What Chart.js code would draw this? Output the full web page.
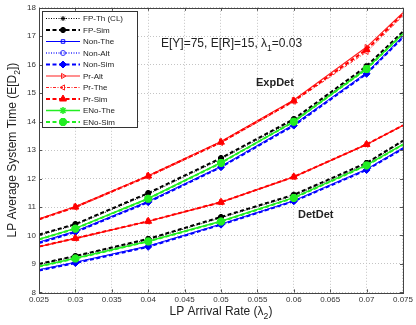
<!DOCTYPE html>
<html><head><meta charset="utf-8">
<script src="https://cdn.jsdelivr.net/npm/chart.js@4/dist/chart.umd.min.js"></script>
<style>html,body{margin:0;padding:0;background:#fff;overflow:hidden}</style>
</head><body>
<canvas id="c" width="416" height="325"></canvas>
<script>
// ---- data ----
const xValues = [0.025, 0.03, 0.04, 0.05, 0.06, 0.07, 0.075];
const xTickLabels = ['0.025','0.03','0.035','0.04','0.045','0.05','0.055','0.06','0.065','0.07','0.075'];
const yTickLabels = ['8','9','10','11','12','13','14','15','16','17','18'];
const seriesNames = ['FP-Th (CL)','FP-Sim','Non-The','Non-Alt','Non-Sim','Pr-Alt','Pr-The','Pr-Sim','ENo-The','ENo-Sim'];
const groupLabels = ['ExpDet','DetDet'];
const noteText = 'E[Y]=75, E[R]=15, λ1=0.03';

// ExpDet curves
const expFPTh   = [10.00, 10.37, 11.45, 12.68, 14.05, 15.90, 17.12];
const expFPSim  = [10.03, 10.40, 11.49, 12.72, 14.09, 15.95, 17.17];
const expNonThe = [9.77, 10.15, 11.20, 12.43, 13.90, 15.72, 17.00];
const expNonAlt = [9.75, 10.13, 11.18, 12.41, 13.88, 15.70, 16.98];
const expNonSim = [9.73, 10.12, 11.17, 12.40, 13.86, 15.68, 16.96];
const expPrAlt  = [10.58, 11.02, 12.10, 13.30, 14.76, 16.62, 17.83];
const expPrThe  = [10.55, 10.98, 12.06, 13.25, 14.70, 16.45, 17.72];
const expPrSim  = [10.57, 11.00, 12.09, 13.28, 14.73, 16.53, 17.78];
const expENoThe = [9.87, 10.25, 11.30, 12.56, 14.00, 15.86, 17.09];
const expENoSim = [9.86, 10.24, 11.29, 12.55, 14.00, 15.85, 17.08];
// DetDet curves
const detFPTh   = [8.98, 9.26, 9.85, 10.62, 11.40, 12.52, 13.30];
const detFPSim  = [9.00, 9.28, 9.88, 10.65, 11.43, 12.55, 13.33];
const detNonThe = [8.80, 9.06, 9.63, 10.40, 11.22, 12.33, 13.08];
const detNonAlt = [8.79, 9.05, 9.62, 10.39, 11.21, 12.32, 13.07];
const detNonSim = [8.77, 9.03, 9.60, 10.38, 11.20, 12.30, 13.05];
const detPrAlt  = [9.61, 9.90, 10.50, 11.17, 12.06, 13.20, 13.87];
const detPrThe  = [9.60, 9.89, 10.49, 11.16, 12.05, 13.19, 13.86];
const detPrSim  = [9.61, 9.90, 10.50, 11.17, 12.06, 13.20, 13.87];
const detENoThe = [8.92, 9.20, 9.80, 10.50, 11.33, 12.47, 13.20];
const detENoSim = [8.91, 9.19, 9.79, 10.49, 11.32, 12.46, 13.19];

const expSeries = [expFPTh, expFPSim, expNonThe, expNonAlt, expNonSim, expPrAlt, expPrThe, expPrSim, expENoThe, expENoSim];
const detSeries = [detFPTh, detFPSim, detNonThe, detNonAlt, detNonSim, detPrAlt, detPrThe, detPrSim, detENoThe, detENoSim];

// ---- styles ----
const NONE = 'rgba(0,0,0,0)';
const GREEN = '#22ee22';
const styles = [
  {color:'#000', dash:[1,1.5], lw:1, ps:'star', rot:0, pr:2.5, pbw:1, fill:'#000'},
  {color:'#000', dash:[4,2.5], lw:2, ps:'star', rot:0, pr:3, pbw:2, fill:'#000'},
  {color:'#0000ff', dash:[], lw:1, ps:'rect', rot:0, pr:2.5, pbw:1, fill:NONE},
  {color:'#3333ff', dash:[1,1.5], lw:1.5, ps:'circle', rot:0, pr:2.5, pbw:1, fill:NONE},
  {color:'#0000ff', dash:[4,2.5], lw:2, ps:'rectRot', rot:0, pr:3.5, pbw:1, fill:'#0000ff'},
  {color:'#ff2020', dash:[], lw:1.2, ps:'triangle', rot:90, pr:3, pbw:1, fill:NONE},
  {color:'#ff2020', dash:[3,1.5,1,1.5], lw:1, ps:'triangle', rot:-90, pr:3, pbw:1, fill:NONE},
  {color:'#ff0000', dash:[4,2.5], lw:2, ps:'triangle', rot:0, pr:4, pbw:1, fill:'#ff0000'},
  {color:GREEN, dash:[], lw:1.5, ps:'star', rot:0, pr:3.5, pbw:1.5, fill:GREEN},
  {color:GREEN, dash:[4,2.5], lw:2, ps:'star', rot:0, pr:4, pbw:3, fill:GREEN},
];

const FONT = '"Liberation Sans", Arial, Helvetica, sans-serif';

function makeDataset(vals, s, i) {
  return {
    data: xValues.map((x, k) => ({x: x, y: vals[k]})),
    borderColor: s.color,
    backgroundColor: s.fill,
    borderWidth: s.lw,
    borderDash: s.dash,
    pointStyle: s.ps,
    pointRotation: s.rot,
    pointRadius: xValues.map((x, k) => (k === 0 || k === xValues.length - 1) ? 0 : s.pr),
    pointBorderWidth: s.pbw,
    pointBorderColor: s.color,
    pointBackgroundColor: s.fill,
    pointHoverRadius: 0,
    tension: 0,
    fill: false,
    order: styles.length - i
  };
}

const datasets = [];
styles.forEach((s, i) => {
  datasets.push(makeDataset(expSeries[i], s, i));
  datasets.push(makeDataset(detSeries[i], s, i));
});

function drawRich(ctx, parts, x, y, size, weight, align) {
  const widths = parts.map(p => {
    ctx.font = (weight || '') + ' ' + (p.sub ? size * 0.72 : size) + 'px ' + FONT;
    return ctx.measureText(p.t).width;
  });
  const total = widths.reduce((a, b) => a + b, 0);
  let cx = align === 'center' ? x - total / 2 : x;
  ctx.textAlign = 'left';
  ctx.textBaseline = 'middle';
  parts.forEach((p, k) => {
    ctx.font = (weight || '') + ' ' + (p.sub ? size * 0.72 : size) + 'px ' + FONT;
    ctx.fillText(p.t, cx, p.sub ? y + size * 0.35 : y);
    cx += widths[k];
  });
}

function drawMarker(ctx, s, x, y) {
  ctx.save();
  ctx.setLineDash([]);
  ctx.fillStyle = s.fill;
  ctx.strokeStyle = s.color;
  ctx.lineWidth = s.pbw;
  if (Chart.helpers && Chart.helpers.drawPoint) {
    Chart.helpers.drawPoint(ctx, {pointStyle: s.ps, rotation: s.rot, radius: s.pr, borderWidth: s.pbw}, x, y);
  }
  ctx.restore();
}

const decor = {
  id: 'decor',
  afterDraw(chart) {
    const ctx = chart.ctx;
    const a = chart.chartArea;
    const xs = chart.scales.x, ys = chart.scales.y;
    ctx.save();
    // inward ticks
    ctx.strokeStyle = '#555';
    ctx.lineWidth = 1;
    ctx.setLineDash([]);
    xs.ticks.forEach(t => {
      const px = Math.round(xs.getPixelForValue(t.value)) + 0.5;
      ctx.beginPath();
      ctx.moveTo(px, a.bottom); ctx.lineTo(px, a.bottom - 3);
      ctx.moveTo(px, a.top); ctx.lineTo(px, a.top + 3);
      ctx.stroke();
    });
    ys.ticks.forEach(t => {
      const py = Math.round(ys.getPixelForValue(t.value)) + 0.5;
      ctx.beginPath();
      ctx.moveTo(a.left, py); ctx.lineTo(a.left + 3, py);
      ctx.moveTo(a.right, py); ctx.lineTo(a.right - 3, py);
      ctx.stroke();
    });
    // box
    ctx.strokeStyle = '#444';
    ctx.strokeRect(Math.round(a.left) + 0.5, Math.round(a.top) + 0.5, Math.round(a.right - a.left), Math.round(a.bottom - a.top));

    // axis titles
    ctx.fillStyle = '#222';
    drawRich(ctx, [{t:'LP Arrival Rate (λ'}, {t:'2', sub:true}, {t:')'}], (a.left + a.right) / 2, 312, 12, '', 'center');
    ctx.save();
    ctx.translate(13, (a.top + a.bottom) / 2);
    ctx.rotate(-Math.PI / 2);
    drawRich(ctx, [{t:'LP Average System Time (E[D'}, {t:'2', sub:true}, {t:'])'}], 0, 0, 12, '', 'center');
    ctx.restore();

    // annotations
    const nParts = noteText.split('λ1');
    drawRich(ctx, [{t: nParts[0] + 'λ'}, {t:'1', sub:true}, {t: nParts[1]}], 161, 44, 12, '', 'left');
    drawRich(ctx, [{t: groupLabels[0]}], 256, 83, 11, 'bold', 'left');
    drawRich(ctx, [{t: groupLabels[1]}], 298, 215, 11, 'bold', 'left');

    // legend
    const lx = 42.5, ly = 11.5, lw = 95, lh = 116;
    ctx.fillStyle = '#fff';
    ctx.fillRect(lx, ly, lw, lh);
    ctx.strokeStyle = '#333';
    ctx.lineWidth = 1;
    ctx.strokeRect(lx, ly, lw, lh);
    styles.forEach((s, i) => {
      const y = 18.5 + i * 11.5;
      ctx.save();
      ctx.strokeStyle = s.color;
      ctx.lineWidth = s.lw;
      ctx.setLineDash(s.dash);
      ctx.beginPath();
      ctx.moveTo(46, y); ctx.lineTo(80, y);
      ctx.stroke();
      ctx.restore();
      drawMarker(ctx, s, 63, y);
      ctx.fillStyle = '#222';
      ctx.font = '8px ' + FONT;
      ctx.textAlign = 'left';
      ctx.textBaseline = 'middle';
      ctx.fillText(seriesNames[i], 83, y + 0.5);
    });
    ctx.restore();
  }
};

new Chart(document.getElementById('c'), {
  type: 'line',
  data: { datasets: datasets },
  options: {
    responsive: false,
    animation: false,
    devicePixelRatio: 1,
    layout: { padding: { top: 6, right: 13, left: 0, bottom: 0 } },
    plugins: { legend: { display: false }, tooltip: { enabled: false } },
    scales: {
      x: {
        type: 'linear', min: 0.025, max: 0.075,
        afterBuildTicks: (s) => { s.ticks = xTickLabels.map(v => ({value: parseFloat(v)})); },
        ticks: {
          autoSkip: false, maxRotation: 0, padding: 3, color: '#333',
          font: { family: FONT, size: 8 },
          callback: (v) => { const i = xTickLabels.findIndex(t => Math.abs(parseFloat(t) - v) < 1e-9); return i >= 0 ? xTickLabels[i] : ''; }
        },
        grid: { color: '#c4c4c4', lineWidth: 1, drawTicks: false },
        border: { display: false, dash: [1, 2] },
        afterFit: (s) => { s.height = 32.6; }
      },
      y: {
        type: 'linear', min: 8, max: 18,
        afterBuildTicks: (s) => { s.ticks = yTickLabels.map(v => ({value: parseFloat(v)})); },
        ticks: {
          padding: 3, color: '#333',
          font: { family: FONT, size: 8 },
          callback: (v) => String(v)
        },
        grid: { color: '#c4c4c4', lineWidth: 1, drawTicks: false },
        border: { display: false, dash: [1, 2] },
        afterFit: (s) => { s.width = 39; }
      }
    }
  },
  plugins: [decor]
});
</script>
</body></html>
